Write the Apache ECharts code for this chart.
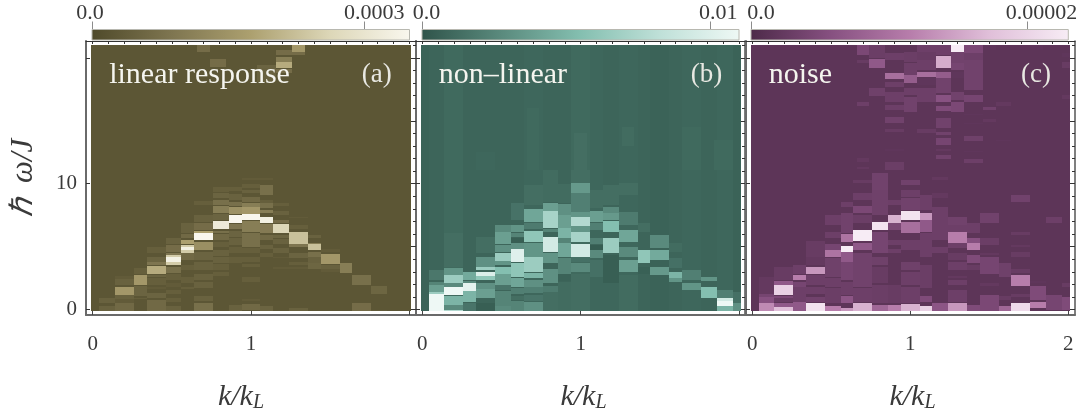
<!DOCTYPE html>
<html>
<head>
<meta charset="utf-8">
<style>html,body{margin:0;padding:0;background:#fff}#c{width:1083px;height:412px}</style>
<script src="https://cdn.jsdelivr.net/npm/echarts@6/dist/echarts.min.js"></script>
</head>
<body>
<div id="c"></div>
<script>
// k bin edges (k/k_L). Lower rows and upper rows of the plots use slightly different bins.
const kEdges = [-0.01,0.04,0.14,0.26,0.34,0.46,0.56,0.64,0.76,0.86,0.94,1.06,1.14,1.24,1.36,1.44,1.56,1.64,1.76,1.86,1.96,2.01];
const kEdgesUpper = [-0.01,0.04,0.14,0.26,0.34,0.46,0.56,0.66,0.74,0.84,0.96,1.04,1.16,1.26,1.34,1.46,1.54,1.64,1.76,1.84,1.96,2.01];
const omegaRange = [-0.12, 21.06];

// Intensities are percent of the colour-bar maximum; each band is [omegaLow, omegaHigh, percent], listed by k bin.
const linearBase = [7,7,7,7,7,7,7,7,7,7,7,7,7,7,7,7,7,7,7,7,7];
const linearResponse = [
 [],
 [[0.48,0.95,14],[-0.12,0.27,14]],
 [[2.41,2.65,10],[1.94,2.41,14],[1.14,1.8,45],[0.8,1.14,14],[0.53,0.8,10],[-0.12,0.48,18]],
 [[2.81,3.26,12],[1.94,2.76,45],[1.06,1.86,15],[0.8,0.95,12]],
 [[4.46,4.93,12],[3.79,4.14,15],[3.53,3.79,25],[2.81,3.45,55],[2.55,2.73,15],[1.94,2.47,12],[1.59,1.8,10],[0.88,1.33,15],[-0.12,0.74,18]],
 [[5.2,5.65,14],[4.59,5.12,20],[4.3,4.46,25],[3.53,4.3,70],[3.8,4.14,95],[2.92,3.4,22],[2.33,2.81,12],[1.8,2.07,10],[1.27,1.54,12],[0.61,0.95,12],[-0.12,0.27,14]],
 [[6.1,6.9,14],[5.65,5.97,18],[5.2,5.52,50],[4.51,5.12,70],[4.72,4.99,95],[3.93,4.51,18],[3.13,3.53,12],[2.07,2.6,12],[1.59,1.75,12]],
 [[8.3,8.62,12],[6.98,7.51,14],[6.31,6.84,20],[6.05,6.26,50],[5.52,6.05,100],[4.72,5.38,40],[3.93,4.59,15],[3.13,3.79,14],[2.33,2.86,14],[1.67,2.2,14],[0.69,1.06,14],[-0.12,0.48,22]],
 [[9.36,9.71,12],[8.83,9.28,15],[8.3,8.7,22],[7.64,8.22,30],[7.11,7.59,15],[6.37,7.06,90],[6.05,6.26,22],[5.52,5.99,18],[4.99,5.38,12],[4.24,4.72,14],[3.71,4.14,14],[3.13,3.61,12],[2.65,3.0,12]],
 [[9.44,9.71,12],[8.7,9.18,14],[8.22,8.57,22],[7.59,8.17,42],[6.84,7.51,100],[6.37,6.79,25],[5.78,6.26,15],[5.12,5.65,14],[4.46,4.93,12],[3.71,4.14,12],[-0.12,0.37,14]],
 [[10.29,10.42,10],[9.63,9.97,12],[9.28,9.5,14],[8.57,8.97,18],[8.12,8.49,30],[7.59,8.12,45],[7.11,7.59,100],[6.18,7.06,30],[4.99,6.05,22],[4.46,4.85,12],[3.79,4.19,12],[3.4,3.61,12],[2.2,2.55,12],[0.69,0.8,10],[0,0.42,18]],
 [[10.3,10.42,10],[9.1,9.89,22],[8.44,8.7,12],[8.04,8.44,22],[7.64,7.9,30],[6.84,7.37,95],[6.05,6.79,28],[5.52,5.92,18],[4.77,5.12,14],[4.19,4.46,12],[-0.12,0.27,15]],
 [[8.22,8.49,12],[7.51,7.85,14],[6.84,7.11,20],[6.1,6.79,75],[5.65,5.92,16],[5.2,5.57,14],[4.46,4.85,14],[4.06,4.14,10],[3.24,3.4,10]],
 [[7.24,7.32,10],[6.37,6.71,12],[5.2,6.18,65],[4.93,5.2,25],[4.06,4.46,15],[3.53,3.79,12],[3.18,3.34,10],[-0.12,0.08,14]],
 [[5.65,5.92,14],[5.2,5.3,30],[4.72,5.2,65],[4.06,4.59,22],[3.66,4.14,14],[3.24,3.66,16]],
 [[4.59,4.8,10],[3.61,4.4,45],[3.24,3.53,14],[3.0,3.24,10]],
 [[2.92,3.66,30]],
 [[1.94,2.73,22],[-0.12,0.48,20]],
 [[1.27,1.86,16],[-0.12,0,10]],
 [],
 []
];
// upper bands: [kBin, omegaLow, omegaHigh, percent]
const linearUpper = [
 [7,20.5,21.02,20],[8,19.3,19.89,20],[11,19.17,19.44,15],[11,18.1,19.17,14],
 [12,20.23,20.63,20],[12,19.7,20.05,30],[12,19.17,19.7,55],[12,18.77,19.12,20],
 [13,20.5,21.06,45],[13,20.23,20.5,20]
];

const nonlinearBase = [7,8,10,8,8,8,8,9,8,8,10,9,8,9,8,7,8,9,8,9,7];
const nonLinear = [
 [],
 [[2.33,3.13,16],[1.94,2.2,22],[1.41,1.94,35],[1.22,1.41,60],[-0.12,1.22,100]],
 [[3.4,6.05,12],[2.73,3.26,30],[2.07,2.73,60],[1.75,2.07,25],[1.14,1.75,100],[0.34,1.06,45],[0,0.34,25],[-0.12,0,70]],
 [[2.33,3.0,40],[2.07,2.28,25],[1.49,2.07,95],[0.61,1.49,45],[-0.12,0.48,15]],
 [[4.46,5.78,12],[3.4,4.14,28],[3.13,3.34,60],[2.65,3.0,90],[2.33,2.65,55],[1.59,2.07,28],[0.88,1.59,35],[-0.12,0.53,5]],
 [[6.18,6.71,25],[5.2,6.13,35],[4.59,5.12,28],[3.87,4.51,60],[3.53,3.87,30],[2.86,3.4,50],[1.94,2.86,35],[1.54,1.94,15],[0.27,1.49,22],[-0.12,0.27,25]],
 [[7.11,8.44,14],[6.18,6.71,30],[5.78,6.05,22],[5.3,5.65,5],[4.8,5.25,28],[3.79,4.8,92],[2.6,3.66,55],[1.75,2.47,38],[1.22,1.67,20],[0.74,1.06,12],[-0.12,0.69,22]],
 [[8.3,9.9,12],[6.98,7.96,38],[6.37,6.84,18],[5.38,6.26,55],[4.19,5.3,30],[3.0,4.14,60],[2.47,2.92,45],[1.8,2.33,28],[1.33,1.75,20],[0.69,1.14,15],[-0.12,0.61,28]],
 [[8.57,11.09,11],[7.85,8.49,35],[6.45,7.85,65],[6.18,6.37,22],[4.59,5.78,85],[3.66,4.51,30],[2.07,3.18,28],[1.41,1.86,18],[-0.12,1.41,12]],
 [[8.49,10,11],[7.51,8.38,28],[6.45,7.51,35],[5.65,6.45,45],[5.25,5.65,22],[4.14,5.25,38],[2.86,4.06,22],[2.28,2.86,7],[-0.12,2.2,11]],
 [[10.03,11.09,12],[9.23,10.03,32],[7.77,9.23,20],[7.37,7.77,30],[6.63,7.32,70],[6.18,6.63,30],[5.38,6.18,65],[4.19,5.2,85],[3.79,4.14,13],[3.0,3.66,25],[-0.12,2.86,12]],
 [[8.04,9.5,12],[6.98,7.85,35],[6.31,6.84,20],[5.2,5.65,20],[4.72,5.12,4],[4.06,4.72,25],[2.6,3.93,13]],
 [[8.3,9.89,12],[7.69,8.12,25],[7.11,7.64,32],[6.18,7.06,50],[4.46,5.65,60],[2.07,4.32,5],[-0.12,2.07,9]],
 [[9.1,10.03,12],[6.71,7.77,18],[5.38,6.31,38],[4.14,4.93,25],[3.0,3.93,35],[-0.12,2.73,11]],
 [[6.18,6.84,12],[3.66,4.72,55],[2.86,3.4,6]],
 [[4.85,5.92,25],[3.93,4.72,40],[2.73,3.4,32]],
 [[4.59,5.25,11],[3.26,4.06,13],[2.47,3.0,45],[2.2,2.47,30]],
 [[2.33,3.13,20],[1.54,2.07,30]],
 [[2.28,2.55,30],[0.88,1.8,50]],
 [[0.88,1.54,20],[0.69,0.88,85],[0.27,0.69,100],[-0.12,0.27,45]],
 [[0.48,1.41,13],[-0.12,0.48,28]]
];
const nonlinearUpper = [
 [7,11.09,16,10],[10,11.09,18,10],[10,11.09,14,12],[13,13,14.5,11],[17,11.09,14.5,10],[19,11.09,13.5,10],[4,11.09,12.5,9]
];

const noiseBase = [7,7,7,7,7,7,7,7,7,7,7,7,7,7,7,7,7,7,7,7,7];
const noise = [
 [],
 [[1.27,2.6,10],[1,1.27,18],[0.48,1,25],[-0.12,0.48,55]],
 [[2.33,3.34,12],[1.94,2.28,30],[1.14,1.94,85],[0.88,1.06,20],[0.61,0.88,12],[0.16,0.48,30],[-0.12,0.16,75]],
 [[2.81,3.53,14],[2.33,2.73,50],[1.8,2.2,18],[0.61,1.8,14],[-0.12,0.61,30]],
 [[4.19,5.46,12],[3.53,4.14,10],[2.81,3.4,60],[1.94,2.73,14],[1.27,1.8,14],[0.61,1,16],[-0.12,0.48,95]],
 [[6.71,7.51,14],[5.65,6.18,14],[4.72,5.2,18],[4.19,4.72,45],[2.6,4.06,15],[1.8,2.47,14],[0.48,1.67,13],[-0.12,0.27,50]],
 [[8.12,8.57,14],[6.05,7.64,16],[5.38,5.99,45],[4.59,5.04,100],[3.79,4.59,30],[2.33,3.79,18],[1.14,2.2,14],[0.48,1.06,28],[-0.12,0.08,60]],
 [[10.03,10.29,12],[8.7,9.28,14],[7.64,8.22,20],[6.84,7.51,13],[5.46,6.31,100],[4.72,5.3,30],[1.8,4.46,16],[0.61,1.67,14],[-0.12,0.48,70]],
 [[9.5,10.82,16],[7.51,9.5,15],[6.31,6.98,95],[4.46,6.18,18],[3.53,4.19,15],[2.07,3.4,12],[0.48,1.94,13],[-0.12,0.34,38]],
 [[8.3,8.7,14],[6.9,7.51,70],[6.31,6.84,20],[5.12,5.52,14],[4.5,4.8,14],[0.48,1.94,12],[-0.12,0.34,50]],
 [[9.89,10.29,16],[8.97,9.5,14],[7.9,8.83,16],[7.11,7.85,95],[6.05,6.98,42],[4.72,5.52,14],[3.13,3.79,15],[1.94,3,14],[0.48,1.8,14],[-0.12,0.4,70]],
 [[7.9,9.1,14],[7.11,7.64,60],[6.18,7.11,30],[5.65,6.05,14],[4.19,5.65,14],[1.67,3.53,13],[0.61,1.06,22],[-0.12,0.27,85]],
 [[10.29,10.56,10],[8.83,9.23,10],[7.64,8.17,14],[5.52,7.64,14],[4.46,4.93,14],[-0.12,0.48,28]],
 [[6.71,7.32,16],[6.18,6.71,14],[5.25,6.18,50],[4.85,5.25,14],[3.93,4.46,12],[3.13,3.79,14],[2.47,2.65,10],[1.94,2.33,14],[0.61,1.54,14],[-0.12,0.48,60]],
 [[6.05,6.84,14],[5.3,5.65,25],[4.72,5.3,50],[3.71,4.32,22],[3.13,3.53,12],[-0.12,0.34,22]],
 [[6.9,7.69,16],[5.12,5.65,13],[4.32,4.51,10],[2.86,4.14,18],[1.86,2.07,10],[-0.12,1.14,20]],
 [[2.6,3.66,15],[0.74,1.06,12],[-0.12,0.27,38]],
 [[8.57,9.1,16],[5.92,6.18,12],[4.93,5.12,10],[4.19,4.59,12],[2.92,3.18,12],[1.86,2.73,50],[1,1.27,12],[-0.12,0.48,90]],
 [[2.07,2.28,8],[0.74,1.86,22],[0.08,0.61,50]],
 [[6.84,7.32,14],[-0.05,1.14,18]],
 [[1.8,2.07,12],[-0.05,1,22]]
];
const noiseUpper = [
 [7,20.23,21.02,20],[7,19.57,19.83,12],[7,16.17,16.52,14],[7,11.75,12.02,10],[7,11.14,11.35,10],
 [8,20.0,21.02,13],[8,19.17,19.89,30],[8,16.97,17.58,15],
 [9,19.83,20.37,14],[9,18.29,18.77,42],[9,17.66,18.1,14],[9,16.52,17.31,14],[9,15.86,16.25,14],[9,14.85,15.33,16],[9,14.14,14.32,12],[9,12.62,12.72,8],[9,11.09,11.75,13],
 [10,19.7,20.5,13],[10,18.64,19.57,14],[10,18.03,18.64,32],[10,17.05,17.58,14],[10,15.72,16.92,16],
 [11,20.5,21.02,14],[11,19.83,20.5,12],[11,19.04,19.83,14],[11,18.45,18.9,42],[11,17.84,18.37,8],[11,16.52,17.58,14],[11,14,14.32,12],
 [12,20.23,21.02,14],[12,19.17,20.15,68],[12,18.37,18.9,32],[12,17.18,18.37,16],[12,16.52,17.05,26],[12,15.8,16.17,22],[12,14.4,15.2,16],[12,13.87,14.14,16],[12,13.08,13.6,18],[12,12.62,12.72,10],[12,11.94,12.28,16],
 [13,20.5,21.06,100],[13,19.57,20.5,16],[13,19.04,19.57,18],[13,18.37,18.9,8],[13,16.65,17.31,16],[13,15.72,16.52,20],
 [14,20.37,21.02,20],[14,19.83,20.37,14],[14,17.45,19.83,16],[14,16.52,17.05,18],[14,15.42,15.5,8],[14,14.76,14.84,8],[14,13.42,13.79,15],[14,12.5,12.6,8],[14,11.62,11.94,14],
 [15,20.63,21.02,8],[15,15.86,16.07,16],[15,14.93,15.12,10],
 [16,16.17,16.52,10],[16,13.38,13.46,8],
 [18,20.63,21.02,8],
 [20,20.05,20.42,8],[20,19.17,19.7,12],[20,16.71,17.05,10]
];

// Colour ramps (evenly spaced stops over each colour bar)
const linearRamp = ['#4f4a2a','#7e7550','#aca06f','#ddd7b8','#f9f7ee'];
const nonlinearRamp = ['#2f544a','#5a8a7d','#84bfb0','#bfe0d8','#eef8f5'];
const noiseRamp = ['#4d2a49','#865080','#b77dab','#e0bfd9','#f7ecf5'];

// Colour-bar limits and ticks
const barMaxes = [0.00035, 0.011, 0.000023];
const barTicks = [0.0003, 0.01, 0.00002];
const barTickText = ['0.0003', '0.01', '0.00002'];

// Axis ticks and labels
const xTicksBottom = [0,1,2];
const xTicksTopMinor = [0,0.1,0.2,0.3,0.4,0.5,0.6,0.7,0.8,0.9,1,1.1,1.2,1.3,1.4,1.5,1.6,1.7,1.8,1.9,2];
const xLabels = [[0,1],[0,1],[0,1,2]];
const yTicksLeft = [0,10,20];
const yLabels = [0,10];
const yTicksRightMinor = [0,1,2,3,4,5,6,7,8,9,10,11,12,13,14,15,16,17,18,19,20,21];
const yTicksRightMajor = [0,5,10,15,20];

const panelNames = ['linear response','non\u2013linear','noise'];
const panelTags = ['(a)','(b)','(c)'];
const nameAnchor = [0.104, 18.64];
const tagAnchor = [1.795, 18.64];

const SERIF = '"Liberation Serif", serif';
const TEXT = '#3a3a3a';

const panels = [
 {g:{left:86,top:41,width:330,height:274,outerBoundsMode:'none'}, x:[-0.0423,2.0423], bar:{left:92,width:317.5}, base:linearBase, low:linearResponse, up:linearUpper, ramp:linearRamp,
  lab:{l:[0,4,0,0], r:[0,0,0,20]}, namePad:[0,20,0,0]},
 {g:{left:416,top:41,width:329,height:274,outerBoundsMode:'none'}, x:[-0.0398,2.0379], bar:{left:422,width:317}, base:nonlinearBase, low:nonLinear, up:nonlinearUpper, ramp:nonlinearRamp,
  lab:{l:[0,0,0,9], r:[0,0,0,16]}, namePad:[0,0,0,6]},
 {g:{left:746,top:41,width:329,height:274,outerBoundsMode:'none'}, x:[-0.04,2.042], bar:{left:751,width:317.3}, base:noiseBase, low:noise, up:noiseUpper, ramp:noiseRamp,
  lab:{l:[0,0,0,20], r:[0,0,0,29]}, namePad:[0,0,0,4]}
];
const yFrame = [-0.437, 21.34];

function cellRows(p, i){
  const max = barMaxes[i], rows = [];
  p.base.forEach((v,c)=>rows.push([kEdges[c],kEdges[c+1],omegaRange[0],omegaRange[1],v/100*max]));
  p.low.forEach((bands,c)=>bands.forEach(b=>rows.push([kEdges[c],kEdges[c+1],b[0],b[1],b[2]/100*max])));
  p.up.forEach(b=>rows.push([kEdgesUpper[b[0]],kEdgesUpper[b[0]+1],b[1],b[2],b[3]/100*max]));
  return rows;
}
function renderCell(params, api){
  const a = api.coord([api.value(0),api.value(3)]), b = api.coord([api.value(1),api.value(2)]);
  const x0 = Math.round(a[0]), x1 = Math.round(b[0]), y0 = Math.round(a[1]), y1 = Math.round(b[1]);
  return {type:'rect', shape:{x:x0,y:y0,width:x1-x0,height:Math.max(1,y1-y0)}, style:{fill:api.visual('color')}};
}

const grid=[], xAxis=[], yAxis=[], series=[], visualMap=[];
const hide = {show:false};
panels.forEach((p,i)=>{
  const gi = i;
  grid.push(p.g);
  // bottom axis with labels
  const xb = xAxis.length;
  xAxis.push({gridIndex:gi,type:'value',position:'bottom',min:p.x[0],max:p.x[1],splitLine:hide,
    axisLine:{show:true,onZero:false,lineStyle:{color:'#6a6a6a',width:2}},
    axisTick:{show:true,inside:true,length:4,customValues:xTicksBottom,lineStyle:{color:'#444',width:1}},
    axisLabel:{show:true,customValues:xLabels[i],margin:19,fontFamily:SERIF,fontSize:21,color:TEXT,formatter:v=>String(v)},
    name:'{i|k/k}{s|L}',nameLocation:'middle',nameGap:66,
    nameTextStyle:{fontFamily:SERIF,padding:p.namePad,rich:{i:{fontFamily:SERIF,fontStyle:'italic',fontSize:30,color:TEXT},s:{fontFamily:SERIF,fontStyle:'italic',fontSize:20,color:TEXT,padding:[12,0,0,0]}}}
  });
  // top axis, ticks only
  xAxis.push({gridIndex:gi,type:'value',position:'top',min:p.x[0],max:p.x[1],splitLine:hide,
    axisLine:{show:true,onZero:false,lineStyle:{color:'#333',width:1}},
    axisTick:{show:true,inside:true,length:3,customValues:xTicksTopMinor,lineStyle:{color:'#333',width:1}},
    axisLabel:hide});
  // left axis
  const yl = yAxis.length;
  yAxis.push(Object.assign({gridIndex:gi,type:'value',position:'left',min:yFrame[0],max:yFrame[1],splitLine:hide,
    axisLine:{show:true,onZero:false,lineStyle:{color:'#6a6a6a',width:2}},
    axisTick:{show:true,inside:true,length:4,customValues:yTicksLeft,lineStyle:{color:'#333',width:1}},
    axisLabel:i===0?{show:true,customValues:yLabels,margin:9,fontFamily:SERIF,fontSize:21,color:TEXT,formatter:v=>String(v)}:hide
  }, i===0?{name:'\u210F  \u03C9/J',nameLocation:'middle',nameGap:47,nameRotate:90,
     nameTextStyle:{fontFamily:SERIF,fontStyle:'italic',fontSize:31,color:TEXT}}:{}));
  // right axes, minor and major ticks
  yAxis.push({gridIndex:gi,type:'value',position:'right',min:yFrame[0],max:yFrame[1],splitLine:hide,
    axisLine:{show:true,onZero:false,lineStyle:{color:'#555',width:1.5}},
    axisTick:{show:true,inside:true,length:3,customValues:yTicksRightMinor,lineStyle:{color:'#333',width:1}},
    axisLabel:hide});
  yAxis.push({gridIndex:gi,type:'value',position:'right',min:yFrame[0],max:yFrame[1],splitLine:hide,
    axisLine:{show:false,onZero:false},
    axisTick:{show:true,inside:true,length:6,customValues:yTicksRightMajor,lineStyle:{color:'#333',width:1}},
    axisLabel:hide});
  const si = series.length;
  series.push({type:'custom',xAxisIndex:xb,yAxisIndex:yl,data:cellRows(p,i),renderItem:renderCell,
    encode:{x:[0,1],y:[2,3]},animation:false,silent:true,progressive:0,clip:false,z:1});
  visualMap.push({show:false,type:'continuous',seriesIndex:si,dimension:4,min:0,max:barMaxes[i],inRange:{color:p.ramp}});
  // panel captions
  series.push({type:'custom',xAxisIndex:xb,yAxisIndex:yl,data:[[nameAnchor[0],nameAnchor[1]],[tagAnchor[0],tagAnchor[1]]],
    encode:{x:0,y:1},animation:false,silent:true,z:5,
    renderItem:(params,api)=>{
      const pt = api.coord([api.value(0),api.value(1)]), isName = params.dataIndex===0;
      return {type:'text',x:pt[0],y:pt[1],style:{text:isName?panelNames[i]:panelTags[i],fill:isName?'#f5f5ef':'#e8e8e2',
        font:(isName?'30px ':'27px ')+SERIF,textAlign:isName?'left':'center',textVerticalAlign:'middle'}};
    }});
});
// colour bars
panels.forEach((p,i)=>{
  const gi = grid.length;
  grid.push({left:p.bar.left,width:p.bar.width,top:29.5,height:10.5,outerBoundsMode:'none'});
  const xi = xAxis.length, yi = yAxis.length;
  xAxis.push({gridIndex:gi,type:'value',position:'top',min:0,max:barMaxes[i],splitLine:hide,
    axisLine:{show:false,onZero:false},
    axisTick:{show:true,length:8,customValues:[0,barTicks[i]],lineStyle:{color:'#8c8c8c',width:1}},
    axisLabel:{show:true,customValues:[0,barTicks[i]],margin:5,hideOverlap:false,
      formatter:v=>v===0?'{l|0.0}':'{r|'+barTickText[i]+'}',
      rich:{l:{fontFamily:SERIF,fontSize:22,color:TEXT,padding:p.lab.l},r:{fontFamily:SERIF,fontSize:22,color:TEXT,padding:p.lab.r}}}});
  yAxis.push({gridIndex:gi,type:'value',min:0,max:1,show:false});
  series.push({type:'custom',xAxisIndex:xi,yAxisIndex:yi,data:[[0,barMaxes[i],0,1]],encode:{x:[0,1],y:[2,3]},animation:false,silent:true,clip:false,z:2,
    renderItem:(params,api)=>{
      const a = api.coord([api.value(0),api.value(3)]), b = api.coord([api.value(1),api.value(2)]);
      const stops = p.ramp.map((c,j)=>({offset:j/(p.ramp.length-1),color:c}));
      return {type:'rect',shape:{x:a[0],y:a[1],width:b[0]-a[0],height:b[1]-a[1]},
        style:{fill:new echarts.graphic.LinearGradient(0,0,1,0,stops),stroke:'#b8b8b0',lineWidth:1}};
    }});
});

const chart = echarts.init(document.getElementById('c'),null,{renderer:'canvas'});
chart.setOption({animation:false,backgroundColor:'#fff',grid,xAxis,yAxis,series,visualMap,tooltip:{show:false}});
</script>
</body>
</html>
